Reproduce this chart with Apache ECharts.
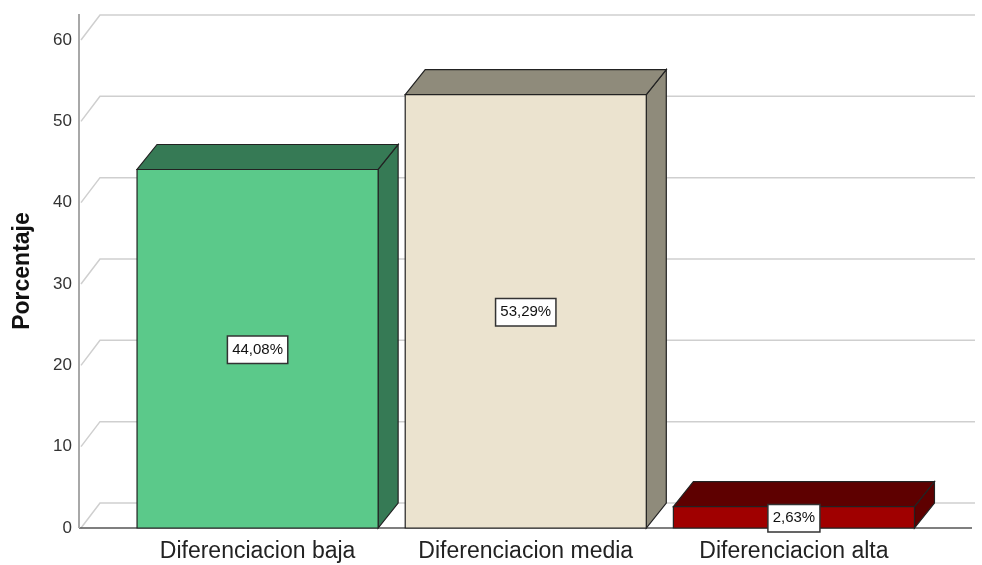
<!DOCTYPE html>
<html>
<head>
<meta charset="UTF-8" />
<title>Porcentaje</title>
<script src="https://cdn.jsdelivr.net/npm/echarts@6/dist/echarts.min.js"></script>
</head>
<body style="margin:0">
<div id="chart" style="width:982px;height:565px"></div>
<script>
const categories = ["Diferenciacion baja", "Diferenciacion media", "Diferenciacion alta"];
const values = [44.08, 53.29, 2.63];
const valueLabels = ["44,08%", "53,29%", "2,63%"];
const yTicks = [0, 10, 20, 30, 40, 50, 60];
const frontColors = ["#5bc98a", "#ebe3cf", "#a00000"];
const shadeColors = ["#367a55", "#8f8b7b", "#5e0000"];

// depth of the fake 3D
const DX = 20, DY = -25;
const AXIS_X = 79, RIGHT_X = 975;
const FONT = "Liberation Sans, Arial, sans-serif";

let myChart = echarts.init(document.getElementById("chart"));

myChart.setOption({
  animation: false,
  grid: { left: 123.5, right: 54, top: 40, bottom: 37 },
  xAxis: {
    type: "category",
    data: categories,
    axisLine: { show: false },
    axisTick: { show: false },
    axisLabel: { fontSize: 23, color: "#222", margin: 12, fontFamily: FONT, interval: 0, hideOverlap: false }
  },
  yAxis: {
    type: "value",
    min: 0,
    max: 60,
    interval: 10,
    offset: 44.5,
    name: "Porcentaje",
    nameLocation: "middle",
    nameGap: 45,
    nameTextStyle: { fontSize: 23, fontWeight: "bold", color: "#111", fontFamily: FONT, padding: [0, 0, 0, 26] },
    axisLine: { show: false },
    axisTick: { show: false },
    splitLine: { show: false },
    axisLabel: { fontSize: 17, color: "#333", margin: 7, fontFamily: FONT, padding: [6, 0, 0, 0] }
  },
  series: [
    {
      // back wall gridlines + axis lines
      type: "custom",
      z: 1,
      silent: true,
      clip: false,
      data: yTicks.map((t) => [0, t]),
      renderItem: function (params, api) {
        const y = api.coord([0, api.value(1)])[1];
        const children = [
          {
            type: "polyline",
            shape: { points: [[AXIS_X + 2, y], [AXIS_X + DX + 1, y + DY], [RIGHT_X, y + DY]] },
            style: { stroke: "#cfcfcf", lineWidth: 1.5, fill: null }
          }
        ];
        if (api.value(1) === 0) {
          children.push({
            type: "line",
            shape: { x1: AXIS_X, y1: y, x2: 972, y2: y },
            style: { stroke: "#555", lineWidth: 1.5 }
          });
          children.push({
            type: "line",
            shape: { x1: AXIS_X, y1: y, x2: AXIS_X, y2: 14 },
            style: { stroke: "#a8a8a8", lineWidth: 2 }
          });
        }
        return { type: "group", children: children };
      }
    },
    {
      type: "custom",
      z: 3,
      clip: false,
      data: values.map((v, i) => [i, v]),
      renderItem: function (params, api) {
        const i = api.value(0);
        const base = api.coord([i, 0]);
        const top = api.coord([i, api.value(1)]);
        const w = api.size([1, 0])[0] * 0.899;
        const x0 = base[0] - w / 2, x1 = base[0] + w / 2;
        const yb = base[1], yt = top[1];
        const edge = { stroke: "#222", lineWidth: 1.2 };
        return {
          type: "group",
          children: [
            {
              type: "polygon",
              shape: { points: [[x1, yt], [x1 + DX, yt + DY], [x1 + DX, yb + DY], [x1, yb]] },
              style: Object.assign({ fill: shadeColors[i] }, edge)
            },
            {
              type: "polygon",
              shape: { points: [[x0, yt], [x0 + DX, yt + DY], [x1 + DX, yt + DY], [x1, yt]] },
              style: Object.assign({ fill: shadeColors[i] }, edge)
            },
            {
              type: "rect",
              shape: { x: x0, y: yt, width: w, height: yb - yt },
              style: Object.assign({ fill: frontColors[i] }, edge)
            },
            {
              type: "text",
              x: base[0],
              y: (yt + yb) / 2 + 1,
              style: {
                text: valueLabels[i],
                fontSize: 15,
                fontFamily: FONT,
                fill: "#111",
                align: "center",
                verticalAlign: "middle",
                backgroundColor: "#fff",
                borderColor: "#333",
                borderWidth: 1.5,
                padding: [6, 4, 5, 4]
              }
            }
          ]
        };
      }
    }
  ]
});
</script>
</body>
</html>
